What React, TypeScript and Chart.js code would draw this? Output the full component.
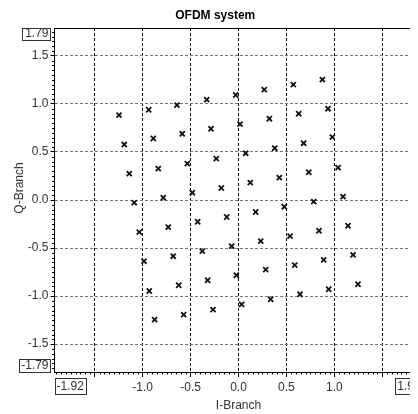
import React, { useEffect, useRef } from "react";
import { Chart, registerables } from "chart.js";

Chart.register(...registerables);

const FONT = "'Liberation Sans', Arial, sans-serif";

const chartTitle = "OFDM system";
const xAxisTitle = "I-Branch";
const yAxisTitle = "Q-Branch";

const xRange = [-1.92, 1.92];
const yRange = [-1.79, 1.79];
const xEndLabels = ["-1.92", "1.92"];
const yEndLabels = ["-1.79", "1.79"];

const xTickValues = [-1.5, -1.0, -0.5, 0.0, 0.5, 1.0, 1.5];
const xTickLabels = ["", "-1.0", "-0.5", "0.0", "0.5", "1.0", ""];
const yTickValues = [-1.5, -1.0, -0.5, 0.0, 0.5, 1.0, 1.5];
const yTickLabels = ["-1.5", "-1.0", "-0.5", "0.0", "0.5", "1.0", "1.5"];

const iBranch = [
  -1.247, -0.937, -0.642, -0.332, -0.029, 0.269, 0.572, 0.875,
  -1.192, -0.889, -0.587, -0.287, 0.016, 0.322, 0.628, 0.934,
  -1.14, -0.837, -0.534, -0.232, 0.075, 0.378, 0.68, 0.979,
  -1.088, -0.785, -0.482, -0.179, 0.123, 0.426, 0.733, 1.039,
  -1.035, -0.733, -0.426, -0.123, 0.179, 0.478, 0.785, 1.091,
  -0.986, -0.681, -0.378, -0.071, 0.232, 0.538, 0.84, 1.143,
  -0.931, -0.624, -0.322, -0.023, 0.284, 0.587, 0.889, 1.195,
  -0.875, -0.572, -0.266, 0.033, 0.336, 0.642, 0.941, 1.247,
];
const qBranch = [
  0.884, 0.939, 0.988, 1.044, 1.093, 1.148, 1.2, 1.253,
  0.577, 0.64, 0.689, 0.741, 0.79, 0.846, 0.898, 0.95,
  0.275, 0.327, 0.379, 0.431, 0.487, 0.539, 0.591, 0.654,
  -0.028, 0.024, 0.076, 0.125, 0.181, 0.233, 0.289, 0.337,
  -0.334, -0.282, -0.226, -0.177, -0.125, -0.07, -0.017, 0.035,
  -0.637, -0.585, -0.532, -0.48, -0.428, -0.376, -0.32, -0.268,
  -0.947, -0.887, -0.835, -0.783, -0.724, -0.678, -0.623, -0.571,
  -1.245, -1.193, -1.141, -1.086, -1.033, -0.981, -0.929, -0.877,
];

const MINOR_STEP = 0.05;

const decorPlugin = {
  id: "decor",
  afterDraw(chart: any) {
    const ctx = chart.ctx as CanvasRenderingContext2D;
    const area = chart.chartArea;
    const xs = chart.scales.x;
    const ys = chart.scales.y;
    ctx.save();
    // top frame line
    ctx.strokeStyle = "#000";
    ctx.lineWidth = 1;
    ctx.setLineDash([]);
    ctx.beginPath();
    ctx.moveTo(area.left, Math.round(area.top) + 0.5);
    ctx.lineTo(area.right, Math.round(area.top) + 0.5);
    ctx.stroke();

    // minor ticks
    ctx.beginPath();
    const isMajor = (v: number) => Math.abs(v / 0.5 - Math.round(v / 0.5)) < 1e-6;
    for (let k = Math.ceil(xRange[0] / MINOR_STEP); k <= Math.floor(xRange[1] / MINOR_STEP); k++) {
      const v = k * MINOR_STEP;
      if (isMajor(v)) continue;
      const px = Math.round(xs.getPixelForValue(v)) + 0.5;
      ctx.moveTo(px, area.bottom);
      ctx.lineTo(px, area.bottom + 2.5);
    }
    for (let k = Math.ceil(yRange[0] / MINOR_STEP); k <= Math.floor(yRange[1] / MINOR_STEP); k++) {
      const v = k * MINOR_STEP;
      if (isMajor(v)) continue;
      const py = Math.round(ys.getPixelForValue(v)) + 0.5;
      ctx.moveTo(area.left, py);
      ctx.lineTo(area.left - 2.5, py);
    }
    ctx.stroke();

    // boxed end labels
    ctx.font = `12px ${FONT}`;
    ctx.fillStyle = "#333";
    ctx.strokeStyle = "#333";
    ctx.textBaseline = "middle";
    const box = (text: string, bx: number, by: number, bw: number, bh: number, tx: number, align: CanvasTextAlign) => {
      ctx.strokeRect(Math.round(bx) + 0.5, Math.round(by) + 0.5, Math.round(bw), Math.round(bh));
      ctx.textAlign = align;
      ctx.fillText(text, tx, by + bh / 2 + 0.5);
    };
    // y end labels
    const yTextRight = area.left - 6;
    const wTop = ctx.measureText(yEndLabels[1]).width;
    box(yEndLabels[1], yTextRight - wTop - 3, area.top - 0.5, wTop + 5, 12, yTextRight, "right");
    const wBot = ctx.measureText(yEndLabels[0]).width;
    box(yEndLabels[0], yTextRight - wBot - 2, area.bottom - 13.5, wBot + 4, 12.5, yTextRight, "right");
    // x end labels
    const xTop = area.bottom + 6;
    const wL = ctx.measureText(xEndLabels[0]).width;
    box(xEndLabels[0], area.left, xTop, wL + 4, 15.5, area.left + 2, "left");
    const wR = ctx.measureText(xEndLabels[1]).width;
    box(xEndLabels[1], area.right - wR - 4, xTop, wR + 4, 15.5, area.right - 2, "right");

    // y axis title
    ctx.save();
    ctx.translate(12, (area.top + area.bottom) / 2 - 12);
    ctx.rotate(-Math.PI / 2);
    ctx.textAlign = "center";
    ctx.textBaseline = "middle";
    ctx.fillStyle = "#333";
    ctx.fillText(yAxisTitle, 0, 0);
    ctx.restore();

    ctx.restore();
  },
};

export default function App() {
  const ref = useRef<HTMLCanvasElement | null>(null);
  useEffect(() => {
    document.body.style.overflow = "hidden";
    const canvas = ref.current;
    if (!canvas) return;
    const chart = new Chart(canvas, {
      type: "scatter",
      data: {
        datasets: [
          {
            data: iBranch.map((x, i) => ({ x, y: qBranch[i] })),
            pointStyle: "crossRot",
            pointRadius: 3.6,
            borderWidth: 1.8,
            borderColor: "#111",
            backgroundColor: "#111",
          },
        ],
      },
      options: {
        responsive: false,
        animation: false,
        devicePixelRatio: 1,
        layout: { padding: { top: 0, left: 0, right: 46.5, bottom: 0 } },
        plugins: {
          legend: { display: false },
          tooltip: { enabled: false },
          title: {
            display: true,
            text: chartTitle,
            color: "#000",
            font: { family: FONT, size: 12, weight: "bold" },
            padding: { top: 0, bottom: 5.6 },
          },
        },
        scales: {
          x: {
            type: "linear",
            position: "bottom",
            min: xRange[0],
            max: xRange[1],
            afterBuildTicks: (s: any) => {
              s.ticks = xTickValues.map((v) => ({ value: v }));
            },
            afterFit: (s: any) => {
              s.height = 42;
            },
            ticks: {
              autoSkip: false,
              maxRotation: 0,
              minRotation: 0,
              padding: 3,
              color: "#333",
              font: { family: FONT, size: 12 },
              callback: (_v: any, i: number) => xTickLabels[i],
            },
            grid: { color: "#000", lineWidth: 1, tickLength: 5, tickColor: "#000", tickWidth: 1 },
            border: { display: true, color: "#000", width: 1, dash: [3, 2] },
            title: {
              display: true,
              text: xAxisTitle,
              color: "#333",
              font: { family: FONT, size: 12 },
              padding: { top: 0, bottom: 1 },
            },
          },
          y: {
            type: "linear",
            position: "left",
            min: yRange[0],
            max: yRange[1],
            afterBuildTicks: (s: any) => {
              s.ticks = yTickValues.map((v) => ({ value: v }));
            },
            afterFit: (s: any) => {
              s.width = 46.5;
            },
            ticks: {
              autoSkip: false,
              padding: 2,
              color: "#333",
              font: { family: FONT, size: 12 },
              callback: (_v: any, i: number) => yTickLabels[i],
            },
            grid: { color: "#777", lineWidth: 1, tickLength: 4, tickColor: "#000", tickWidth: 1 },
            border: { display: true, color: "#000", width: 1, dash: [3, 2] },
            title: { display: false },
          },
        },
      },
      plugins: [decorPlugin],
    } as any);
    return () => chart.destroy();
  }, []);
  return (
    <div style={{ width: 410, height: 406, overflow: "hidden" }}>
      <canvas ref={ref} width={461} height={406} style={{ width: 461, height: 406, display: "block" }} />
    </div>
  );
}
